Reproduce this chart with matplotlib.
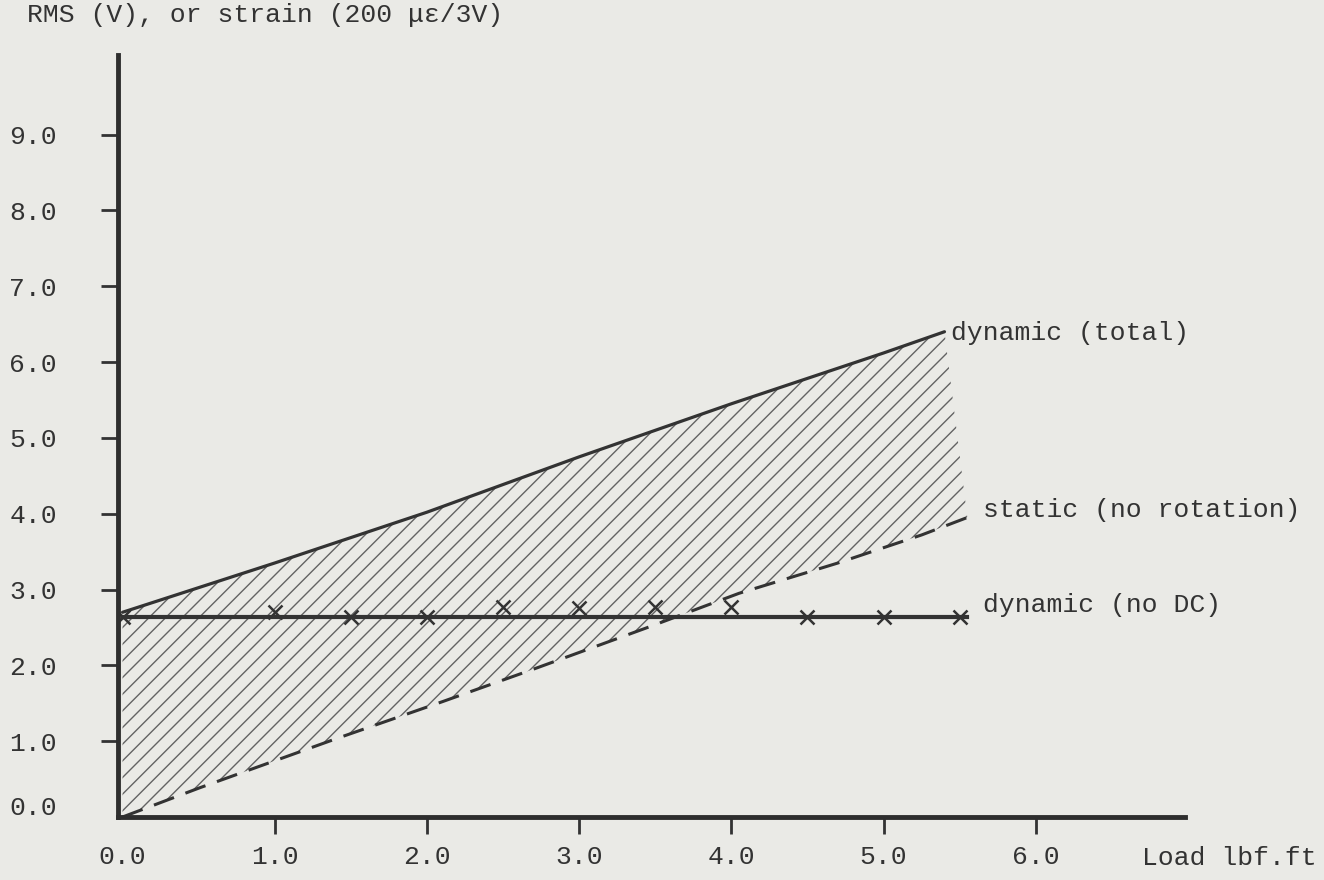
import matplotlib.pyplot as plt
import numpy as np

plt.rcParams['font.family'] = ['Liberation Mono', 'DejaVu Sans Mono']
plt.rcParams['hatch.linewidth'] = 1.0

# dynamic (total)
total_x = [0.0, 1.0, 2.0, 3.0, 4.0, 5.0, 5.4]
total_y = [2.7, 3.35, 4.02, 4.75, 5.45, 6.12, 6.4]

# static (no rotation)
static_x = [0.0, 0.5, 1.4, 2.1, 2.7, 3.45, 4.05, 4.7, 5.25, 5.55]
static_y = [0.0, 0.38, 1.03, 1.52, 1.95, 2.5, 2.95, 3.35, 3.72, 3.95]

# dynamic (no DC)
nodc_line_x = [0.0, 5.55]
nodc_line_y = [2.64, 2.64]
nodc_x = [0.0, 1.0, 1.5, 2.0, 2.5, 3.0, 3.5, 4.0, 4.5, 5.0, 5.5]
nodc_y = [2.64, 2.7, 2.64, 2.64, 2.77, 2.76, 2.77, 2.77, 2.64, 2.64, 2.64]

xticks = [0, 1, 2, 3, 4, 5, 6]
yticks = [1, 2, 3, 4, 5, 6, 7, 8, 9]

bg = '#eaeae6'
ink = '#333333'
fs = 19

fig = plt.figure(figsize=(13.24, 8.8), dpi=100, facecolor=bg)
ax = fig.add_axes([0.0891, 0.0716, 0.8059, 0.8659], facecolor=bg)

# hatched band between total and static
poly_x = np.concatenate([total_x, static_x[::-1]])
poly_y = np.concatenate([total_y, static_y[::-1]])
ax.fill(poly_x, poly_y, facecolor='none', edgecolor='#636363', linewidth=0, hatch='//')

ax.plot(total_x, total_y, color=ink, lw=2.3, solid_capstyle='round')
ax.plot(static_x, static_y, color=ink, lw=2.2, dashes=(7, 4))
ax.plot(nodc_line_x, nodc_line_y, color=ink, lw=3)
ax.plot(nodc_x, nodc_y, ls='none', marker='x', ms=10, mew=1.8, color=ink)

ax.set_xlim(-0.03, 6.98)
ax.set_ylim(0, 10.05)

for s in ['top', 'right']:
    ax.spines[s].set_visible(False)
for s in ['left', 'bottom']:
    ax.spines[s].set_linewidth(3.5)
    ax.spines[s].set_color('#2e2e2e')

ax.set_xticks(xticks)
ax.set_xticklabels([f"{v:.1f}" for v in xticks])
ax.set_yticks(yticks)
ax.set_yticklabels([f"{v:.1f}" for v in yticks])
ax.tick_params(axis='x', direction='out', length=12, width=2, color=ink,
               pad=8, labelsize=fs, labelcolor=ink)
ax.tick_params(axis='y', direction='out', length=12, width=2, color=ink,
               pad=32, labelsize=fs, labelcolor=ink)
ax.xaxis.get_major_ticks()[0].tick1line.set_visible(False)

ax.annotate("0.0", xy=(0, 0), xycoords=('axes fraction', 'data'),
            xytext=(-61, 9), textcoords='offset pixels',
            ha='right', va='center', fontsize=fs, color=ink)

ax.text(5.44, 6.39, "dynamic (total)", fontsize=fs, color=ink, va='center')
ax.text(5.65, 4.05, "static (no rotation)", fontsize=fs, color=ink, va='center')
ax.text(5.65, 2.8, "dynamic (no DC)", fontsize=fs, color=ink, va='center')

fig.text(27 / 1324, 1 - 15 / 880, "RMS (V), or strain (200 με/3V)",
         fontsize=fs, color=ink, va='center', ha='left')
fig.text(1142 / 1324, 1 - 858 / 880, "Load lbf.ft",
         fontsize=fs, color=ink, va='center', ha='left')

fig.savefig('out.png', dpi=100, facecolor=bg)
